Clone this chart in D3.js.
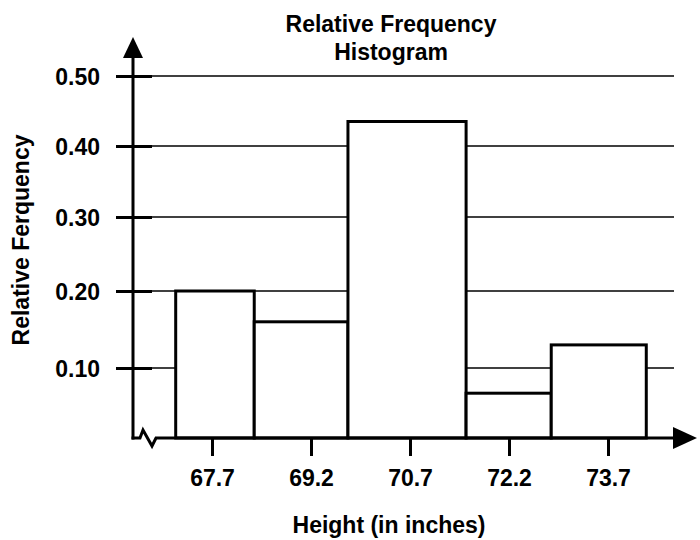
<!DOCTYPE html>
<html>
<head>
<meta charset="utf-8">
<script src="https://cdn.jsdelivr.net/npm/d3@7"></script>
<style>
  html, body { margin: 0; padding: 0; background: #fff; }
  svg text { font-family: "Liberation Sans", Arial, sans-serif; font-weight: bold; fill: #000; }
</style>
</head>
<body>
<svg id="chart" width="700" height="540"></svg>
<script>
// ---- data ----
const binEdges = [67.15, 68.34, 69.76, 71.55, 72.84, 74.28];
const relFreq = [0.20, 0.16, 0.435, 0.064, 0.13];
const xTickValues = [67.7, 69.2, 70.7, 72.2, 73.7];
const xTickLabels = ["67.7", "69.2", "70.7", "72.2", "73.7"];
const yTickValues = [0.10, 0.20, 0.30, 0.40, 0.50];
const yTickLabels = ["0.10", "0.20", "0.30", "0.40", "0.50"];
const titleLines = ["Relative Frequency", "Histogram"];
const xTitle = "Height (in inches)";
const yTitle = "Relative Ferquency";

const FONT = "'Liberation Sans', Arial, sans-serif";
const bins = relFreq.map((v, i) => ({ x0: binEdges[i], x1: binEdges[i + 1], v }));

const svg = d3.select("#chart");
const x = d3.scaleLinear().domain([67.7, 73.7]).range([212, 608]);
// hand-drawn axis: gridline spacing is slightly uneven in the original
const y = d3.scaleLinear().domain([0, 0.1, 0.2, 0.3, 0.4, 0.5]).range([438, 368, 291, 217, 146, 76]);
const axisX = 133, axisY = y(0);

// gridlines (thin) behind bars
svg.append("g").selectAll("line").data(yTickValues).join("line")
  .attr("x1", 152).attr("x2", 674)
  .attr("y1", d => y(d)).attr("y2", d => y(d))
  .attr("stroke", "#000").attr("stroke-width", 1.5);

// bars
svg.append("g").selectAll("rect").data(bins).join("rect")
  .attr("x", d => x(d.x0)).attr("width", d => x(d.x1) - x(d.x0))
  .attr("y", d => y(d.v)).attr("height", d => y(0) - y(d.v))
  .attr("fill", "#fff").attr("stroke", "#000").attr("stroke-width", 3);

// y axis (thick ticks)
const yAxis = d3.axisLeft(y).tickValues(yTickValues)
  .tickFormat((d, i) => yTickLabels[i]).tickSize(0).tickPadding(0);
const gy = svg.append("g").attr("transform", `translate(${axisX},0)`).call(yAxis);
gy.select(".domain").remove();
gy.selectAll(".tick text").attr("x", -33).attr("dy", "0.37em")
  .style("font-size", "23px").style("font-family", FONT).style("font-weight", "bold");
gy.selectAll(".tick").append("line")
  .attr("x1", -17).attr("x2", 19).attr("stroke", "#000").attr("stroke-width", 3);

// y axis line + arrow
svg.append("line").attr("x1", axisX).attr("x2", axisX).attr("y1", 55).attr("y2", axisY + 1.5)
  .attr("stroke", "#000").attr("stroke-width", 3);
svg.append("path").attr("d", `M${axisX},37 L${axisX - 10},58 L${axisX + 10},58 Z`).attr("fill", "#000");

// x axis line with break squiggle
svg.append("path")
  .attr("d", `M${axisX - 1.5},${axisY} L140,${axisY} L143,${axisY - 8} L152,${axisY + 8} L156,${axisY} L676,${axisY}`)
  .attr("fill", "none").attr("stroke", "#000").attr("stroke-width", 3).attr("stroke-linejoin", "miter");
svg.append("path").attr("d", `M697,${axisY} L673,${axisY - 11} L673,${axisY + 11} Z`).attr("fill", "#000");

// x axis ticks and labels
const xAxis = d3.axisBottom(x).tickValues(xTickValues)
  .tickFormat((d, i) => xTickLabels[i]).tickSize(17).tickPadding(14);
const gx = svg.append("g").attr("transform", `translate(0,${axisY + 1})`).call(xAxis);
gx.select(".domain").remove();
gx.selectAll(".tick line").attr("stroke", "#000").attr("stroke-width", 3);
gx.selectAll(".tick text").style("font-size", "23px").style("font-family", FONT).style("font-weight", "bold");

// titles
svg.append("g").selectAll("text").data(titleLines).join("text")
  .attr("x", 391).attr("y", (d, i) => 32 + i * 28)
  .attr("text-anchor", "middle").style("font-size", "23px").text(d => d);
svg.append("text").attr("x", 389).attr("y", 533).attr("text-anchor", "middle")
  .style("font-size", "23px").text(xTitle);
svg.append("text").attr("transform", "translate(29,240) rotate(-90)")
  .attr("text-anchor", "middle").style("font-size", "23px").text(yTitle);
</script>
</body>
</html>
